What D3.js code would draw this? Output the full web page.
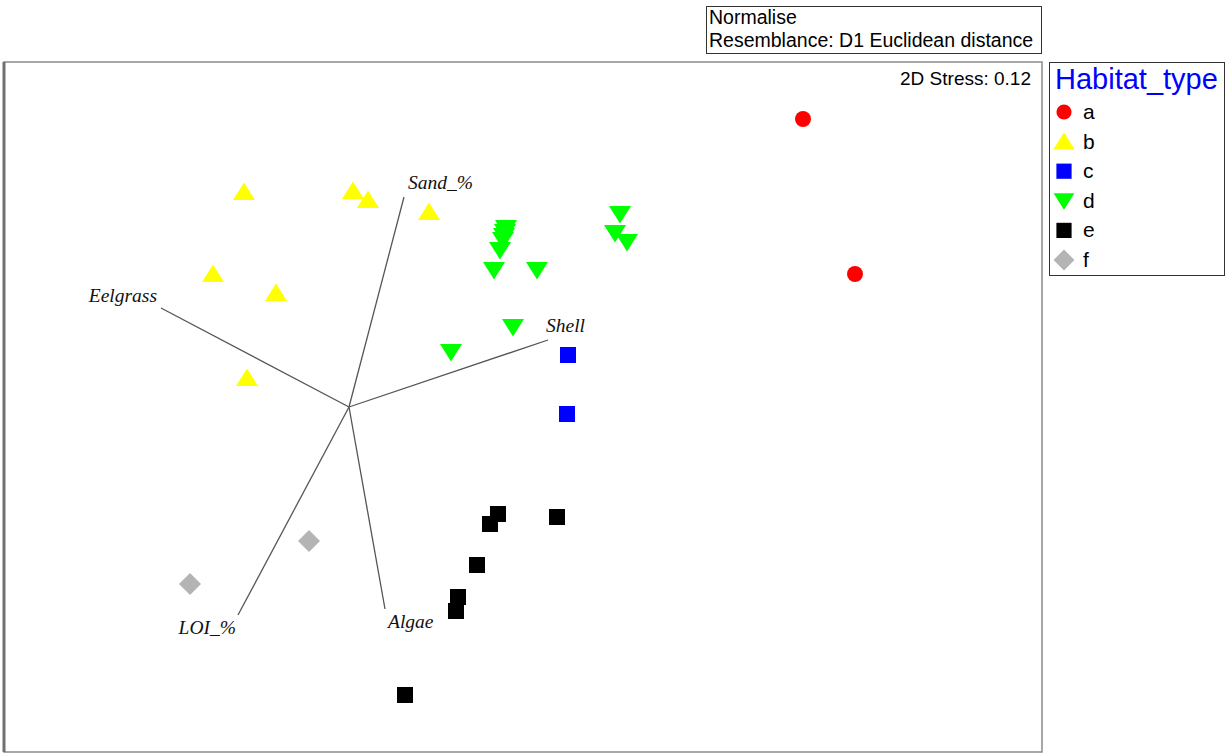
<!DOCTYPE html>
<html>
<head>
<meta charset="utf-8">
<script src="https://cdn.jsdelivr.net/npm/d3@7"></script>
<style>
  body { margin: 0; background: #fff; }
  text { font-family: "Liberation Sans", Arial, sans-serif; }
  .vec { font-family: "Liberation Serif", "Times New Roman", serif; font-style: italic; }
</style>
</head>
<body>
<script>
// MDS ordination scores
var groups = ["a", "b", "c", "d", "e", "f"];
var pointGroup = ["a","a",
  "b","b","b","b","b","b","b",
  "c","c",
  "d","d","d","d","d","d","d","d","d","d","d","d",
  "e","e","e","e","e","e","e",
  "f","f"];
var pointX = [2.27, 2.53,
  -0.525, 0.02, 0.095, 0.40, -0.68, -0.365, -0.51,
  1.095, 1.09,
  1.355, 1.33, 1.39, 0.785, 0.78, 0.775, 0.77, 0.755, 0.725, 0.94, 0.82, 0.51,
  0.745, 0.705, 1.04, 0.64, 0.545, 0.535, 0.28,
  -0.2, -0.795];
var pointY = [1.44, 0.665,
  1.075, 1.08, 1.035, 0.975, 0.665, 0.57, 0.145,
  0.26, -0.035,
  0.965, 0.87, 0.825, 0.895, 0.875, 0.855, 0.835, 0.785, 0.685, 0.685, 0.40, 0.275,
  -0.535, -0.585, -0.55, -0.79, -0.95, -1.02, -1.44,
  -0.67, -0.885];

// environmental vectors (from origin)
var vecNames = ["Sand_%", "Eelgrass", "Shell", "LOI_%", "Algae"];
var vecX = [0.275, -0.94, 0.995, -0.555, 0.18];
var vecY = [1.05, 0.495, 0.335, -1.04, -1.01];
var vecOrigin = [0, 0];

var stress = "2D Stress: 0.12";
var headerLines = ["Normalise", "Resemblance: D1 Euclidean distance"];
var legendTitle = "Habitat_type";

var svgWidth = 1231, svgHeight = 753;
var plot = { left: 4, top: 62, right: 1042, bottom: 752 };

var svg = d3.select("body").append("svg")
  .attr("width", svgWidth)
  .attr("height", svgHeight);

var x = d3.scaleLinear().domain([-1.725, 3.465]).range([plot.left, plot.right]);
var y = d3.scaleLinear().domain([-1.725, 1.725]).range([plot.bottom, plot.top]);

var colors = { a: "#ff0000", b: "#ffff00", c: "#0000ff", d: "#00ff00", e: "#000000", f: "#b4b4b4" };

function markerPath(g) {
  if (g == "a") return d3.symbol().type(d3.symbolCircle).size(200)();
  if (g == "b") return "M0,-9.5L11,8L-11,8Z";
  if (g == "c" || g == "e") return "M-8,-8H8V8H-8Z";
  if (g == "d") return "M0,9.5L11,-8L-11,-8Z";
  return "M0,-11L11,0L0,11L-11,0Z";
}

// header box
svg.append("rect")
  .attr("x", 706.5).attr("y", 6.5).attr("width", 335).attr("height", 47)
  .attr("fill", "white").attr("stroke", "#333").attr("stroke-width", 1);
svg.selectAll(".hdr").data(headerLines).enter().append("text")
  .attr("x", 709)
  .attr("y", (d, i) => 24 + i * 23)
  .attr("font-size", "19.5px")
  .text(d => d);

// plot frame
svg.append("rect")
  .attr("x", plot.left).attr("y", plot.top)
  .attr("width", plot.right - plot.left).attr("height", plot.bottom - plot.top)
  .attr("fill", "white").attr("stroke", "#8a8a8a").attr("stroke-width", 1.5);
svg.append("line")
  .attr("x1", plot.left).attr("x2", plot.left)
  .attr("y1", plot.top).attr("y2", plot.bottom)
  .attr("stroke", "#707070").attr("stroke-width", 3);

svg.append("text")
  .attr("x", 1031).attr("y", 85)
  .attr("text-anchor", "end")
  .attr("font-size", "19px")
  .text(stress);

// vectors
var vecData = vecNames.map((n, i) => ({ name: n, x: vecX[i], y: vecY[i] }));
svg.selectAll(".vline").data(vecData).enter().append("line")
  .attr("x1", x(vecOrigin[0])).attr("y1", y(vecOrigin[1]))
  .attr("x2", d => x(d.x)).attr("y2", d => y(d.y))
  .attr("stroke", "#555").attr("stroke-width", 1.3);

var labelOffset = {
  "Sand_%": [4, -8, "start"],
  "Eelgrass": [-4, -6, "end"],
  "Shell": [-2, -8, "start"],
  "LOI_%": [-2, 19, "end"],
  "Algae": [3, 19, "start"]
};
svg.selectAll(".vlabel").data(vecData).enter().append("text")
  .attr("class", "vec")
  .attr("x", d => x(d.x) + labelOffset[d.name][0])
  .attr("y", d => y(d.y) + labelOffset[d.name][1])
  .attr("text-anchor", d => labelOffset[d.name][2])
  .attr("font-size", "19.5px")
  .attr("fill", "#111")
  .text(d => d.name);

// points
var pts = pointGroup.map((g, i) => ({ g: g, x: pointX[i], y: pointY[i] }));
svg.selectAll(".pt").data(pts).enter().append("path")
  .attr("d", d => markerPath(d.g))
  .attr("transform", d => "translate(" + x(d.x) + "," + y(d.y) + ")")
  .attr("fill", d => colors[d.g]);

// legend
svg.append("rect")
  .attr("x", 1049.5).attr("y", 62.5).attr("width", 175).attr("height", 213)
  .attr("fill", "white").attr("stroke", "#333").attr("stroke-width", 1);
svg.append("text")
  .attr("x", 1055).attr("y", 89)
  .attr("font-size", "29px")
  .attr("fill", "#0000ff")
  .text(legendTitle);
var leg = svg.selectAll(".leg").data(groups).enter().append("g")
  .attr("transform", (d, i) => "translate(1064," + (112 + i * 29.6) + ")");
leg.append("path")
  .attr("d", d => markerPath(d))
  .attr("transform", "scale(0.95)")
  .attr("fill", d => colors[d]);
leg.append("text")
  .attr("x", 19).attr("y", 7)
  .attr("font-size", "21px")
  .text(d => d);
</script>
</body>
</html>
